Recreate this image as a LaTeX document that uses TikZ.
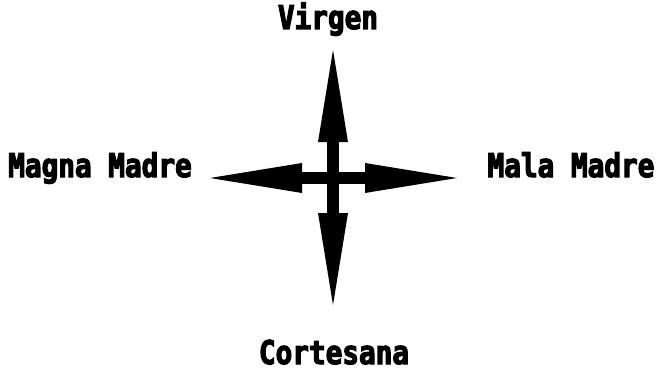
\documentclass[tikz,border=0pt]{standalone}
\usepackage{fontspec}
\usepackage{tikz}
\usetikzlibrary{arrows.meta}
\newfontfamily\labelfont[FakeStretch=0.85,FakeBold=3.5]{DejaVu Sans Mono}

\begin{document}
\begin{tikzpicture}[x=1pt, y=1pt,
    arm/.style={line width=12pt,
      -{Triangle[length=92pt, width=30pt, line width=0pt]}},
    lbl/.style={anchor=base, inner sep=0pt,
      font=\labelfont\bfseries\fontsize{32.6}{34}\selectfont}]

  \useasboundingbox (0,0) rectangle (656,373);

  \coordinate (C) at (333,195);

  %--- Arrow tips ----------------------------------------------------------
  \coordinate (N) at (333,323);
  \coordinate (S) at (333,68);
  \coordinate (W) at (210,195);
  \coordinate (E) at (457,195);

  %--- Cross of arrows -----------------------------------------------------
  \draw[arm] (C) -- (N);
  \draw[arm] (C) -- (S);
  \draw[arm] (C) -- (W);
  \draw[arm] (C) -- (E);

  %--- Labels --------------------------------------------------------------
  \node[lbl] (virgen)    at (328,344) {Virgen};
  \node[lbl] (cortesana) at (334,9)   {Cortesana};
  \node[lbl] (magna)     at (100,196) {Magna Madre};
  \node[lbl] (mala)      at (571,196) {Mala Madre};

\end{tikzpicture}
\end{document}
